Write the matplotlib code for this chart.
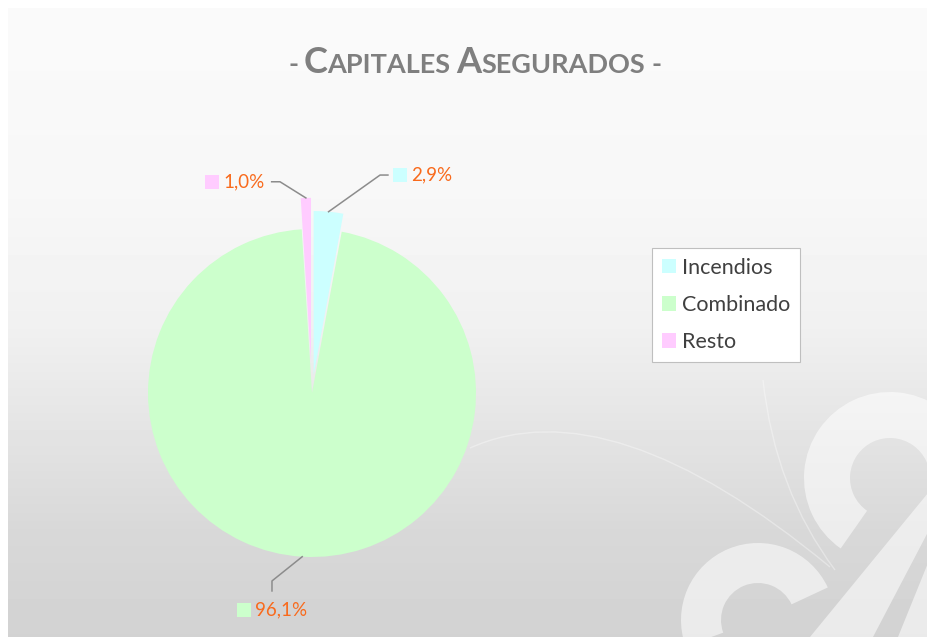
import matplotlib.pyplot as plt
from matplotlib.patches import Patch, Wedge, Polygon
from matplotlib.path import Path
from matplotlib.patches import PathPatch
import numpy as np

categorias = ['Incendios', 'Combinado', 'Resto']
porcentajes = [2.9, 96.1, 1.0]
etiquetas = ['2,9%', '96,1%', '1,0%']
colores = ['#CCFFFF', '#CCFFCC', '#FFCCFF']
separacion = [0.11, 0.0, 0.19]

W, H = 928, 637
fig = plt.figure(figsize=(W / 100, H / 100), dpi=100)
fig.patch.set_facecolor('white')

# fondo degradado con el logo decorativo (coordenadas en pixeles)
bg = fig.add_axes([8 / W, 0, (W - 8) / W, (H - 8) / H])
bg.set_xlim(8, W)
bg.set_ylim(H, 8)
bg.axis('off')
filas = np.arange(8, H)
tonos = np.interp(filas, [8, 200, 330, 430, 530, 637], [250, 247, 240, 228, 216, 210]) / 255
grad = np.repeat(tonos[:, None], 20, axis=1)
bg.imshow(grad, cmap='gray', vmin=0, vmax=1, extent=(8, W, H, 8), aspect='auto',
          interpolation='nearest')

deco = dict(facecolor='white', edgecolor='none', alpha=0.55)
bg.add_patch(Wedge((890, 478), 86, -235, 5, width=46, **deco))
bg.add_patch(Wedge((758, 620), 77, -200, -25, width=40, **deco))
bg.add_patch(Polygon([(928, 493), (928, 532), (873, 637), (810, 637)], **deco))
bg.add_patch(Polygon([(928, 563), (928, 637), (898, 637)], **deco))
for pts in ([(470, 448), (610, 385), (830, 567)], [(763, 380), (775, 490), (835, 570)]):
    bg.add_patch(PathPatch(Path(pts, [Path.MOVETO, Path.CURVE3, Path.CURVE3]),
                           facecolor='none', edgecolor='white', alpha=0.35, lw=1.0))

# titulo en versalitas
partes = [('-', 19.5), ('C', 26), ('APITALES', 19.5), ('A', 26), ('SEGURADOS', 19.5), ('-', 19.5)]
huecos = [5, 0, 6, 0, 6, 0]
renderer = fig.canvas.get_renderer()
textos = [fig.text(0, 0, t, fontsize=s, family='Lato', fontweight='bold', color='#7f7f7f',
                   va='baseline', ha='left') for t, s in partes]
anchos = [t.get_window_extent(renderer).width for t in textos]
total = sum(anchos) + sum(huecos)
x = 475 - total / 2
for t, a, g in zip(textos, anchos, huecos):
    t.set_position((x / W, (H - 73) / H))
    x += a + g

# tarta
R = 164
cx, cy = 312, 393
half = 260
ax = fig.add_axes([(cx - half) / W, (H - cy - half) / H, 2 * half / W, 2 * half / H])
cunas, _ = ax.pie(porcentajes, colors=colores, startangle=90, counterclock=False,
                  explode=separacion, wedgeprops=dict(linewidth=0))
ax.set_xlim(-half / R, half / R)
ax.set_ylim(-half / R, half / R)
ax.axis('off')

codos = [(0.415, 1.329), (-0.244, -1.146), (-0.195, 1.288)]
finales = [(0.463, 1.329), (-0.244, -1.207), (-0.246, 1.288)]
cuadros = [(0.537, 1.329), (-0.415, -1.323), (-0.61, 1.288)]
for cuna, codo, fin, cuadro, etq, col in zip(cunas, codos, finales, cuadros, etiquetas, colores):
    ang = np.deg2rad((cuna.theta1 + cuna.theta2) / 2)
    x0 = cuna.center[0] + cuna.r * np.cos(ang)
    y0 = cuna.center[1] + cuna.r * np.sin(ang)
    ax.plot([x0, codo[0], fin[0]], [y0, codo[1], fin[1]], color='#8c8c8c', lw=1.1)
    ax.plot(cuadro[0], cuadro[1], marker='s', ms=10, mew=0, color=col, clip_on=False)
    ax.text(cuadro[0] + 0.07, cuadro[1], etq, fontsize=13.5, family='Lato', color='#F96A1C',
            va='center', ha='left')

# leyenda
manejadores = [Patch(facecolor=c, edgecolor='none') for c in colores]
leg = fig.legend(manejadores, categorias, loc='upper left', bbox_to_anchor=(652 / W, 1 - 248 / H),
                 frameon=True, fancybox=False, framealpha=1, edgecolor='#bfbfbf',
                 prop=dict(family='Lato', size=15.5), handlelength=0.66, handleheight=0.66,
                 handletextpad=0.3, labelspacing=0.8, borderpad=0.45, borderaxespad=0)
leg.get_frame().set_linewidth(0.8)
for t in leg.get_texts():
    t.set_color('#404040')

fig.savefig('out.png', dpi=100)
